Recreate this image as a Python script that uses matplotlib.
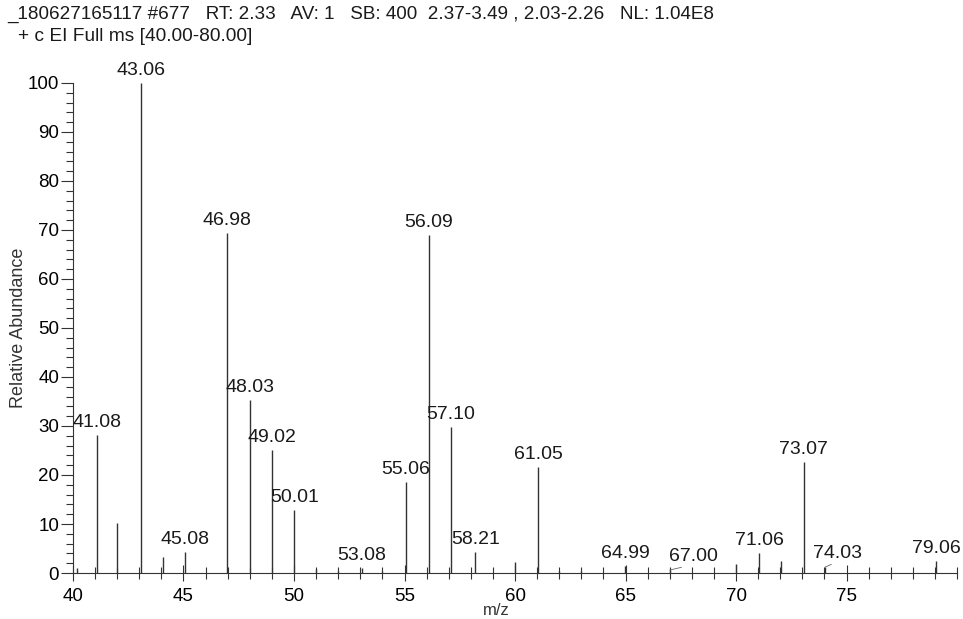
import numpy as np
import matplotlib
matplotlib.use('Agg')
import matplotlib.pyplot as plt
from matplotlib.ticker import MultipleLocator

# peak list (m/z, relative abundance %)
mz = [40.2, 41.08, 42.0, 43.06, 44.06, 45.08, 46.98, 48.03, 49.02, 50.01,
      51.0, 52.0, 53.08, 54.0, 55.06, 56.09, 57.10, 58.21, 60.0, 61.05,
      62.0, 63.0, 64.99, 67.00, 70.0, 71.06, 72.05, 73.07, 74.03, 79.06]
abund = [1.0, 28.2, 10.2, 100.0, 3.3, 4.3, 69.4, 35.3, 25.1, 12.9,
         0.8, 0.5, 1.0, 0.5, 18.6, 69.0, 29.8, 4.3, 2.2, 21.6,
         0.5, 0.5, 1.4, 0.6, 1.8, 4.1, 2.5, 22.6, 1.2, 2.5]
labelled = ['41.08', '43.06', '45.08', '46.98', '48.03', '49.02', '50.01',
            '53.08', '55.06', '56.09', '57.10', '58.21', '61.05', '64.99',
            '67.00', '71.06', '73.07', '74.03', '79.06']

header1 = '_180627165117 #677   RT: 2.33   AV: 1   SB: 400  2.37-3.49 , 2.03-2.26   NL: 1.04E8'
header2 = '+ c EI Full ms [40.00-80.00]'

plt.rcParams['font.family'] = ['Liberation Sans', 'DejaVu Sans']

fig = plt.figure(figsize=(9.63, 6.19), dpi=100)
ax = fig.add_axes([0.0758, 0.0743, 0.918, 0.7917])

ax.vlines(mz, 0, abund, color='#333333', linewidth=1.0)

# labels that the instrument pushed sideways (with a leader line)
shifted = {'67.00': 17, '74.03': 9}

for m, a in zip(mz, abund):
    lab = '%.2f' % m
    if lab not in labelled:
        continue
    dx = shifted.get(lab, 0)
    if dx:
        ax.annotate(lab, (m, a), xytext=(dx, 4), textcoords='offset points',
                    ha='center', va='bottom', fontsize=14, color='#1a1a1a',
                    annotation_clip=False,
                    arrowprops=dict(arrowstyle='-', color='#666666', lw=0.6,
                                    shrinkA=0, shrinkB=0,
                                    relpos=(0.5, 0.0)))
    else:
        ax.annotate(lab, (m, a), xytext=(0, 3), textcoords='offset points',
                    ha='center', va='bottom', fontsize=14, color='#1a1a1a',
                    annotation_clip=False)

ax.set_xlim(40, 80)
ax.set_ylim(0, 100)
ax.xaxis.set_minor_locator(MultipleLocator(1))
ax.yaxis.set_major_locator(MultipleLocator(10))
ax.yaxis.set_minor_locator(MultipleLocator(2))
ax.set_xticks([40, 45, 50, 55, 60, 65, 70, 75])

for s in ['top', 'right']:
    ax.spines[s].set_visible(False)
for s in ['left', 'bottom']:
    ax.spines[s].set_linewidth(0.8)
    ax.spines[s].set_color('#333333')

ax.tick_params(axis='x', which='major', direction='inout', length=11, width=0.8,
               labelsize=13.5, pad=5, color='#333333')
ax.tick_params(axis='x', which='minor', direction='inout', length=8, width=0.8,
               color='#333333')
ax.tick_params(axis='y', which='major', direction='out', length=9, width=0.8,
               labelsize=13.5, pad=1, color='#333333')
ax.tick_params(axis='y', which='minor', direction='out', length=5, width=0.8,
               color='#333333')

ax.set_ylabel('Relative Abundance', fontsize=13, color='#333333')
ax.yaxis.set_label_coords(-0.052, 0.5)
fig.text(0.515, 0.001, 'm/z', fontsize=12, ha='center', va='bottom', color='#333333')

fig.text(0.008, 0.977, header1, fontsize=13.6, ha='left', va='center', color='#1a1a1a')
fig.text(0.019, 0.941, header2, fontsize=13.8, ha='left', va='center', color='#1a1a1a')

fig.savefig('out.png', dpi=100)
